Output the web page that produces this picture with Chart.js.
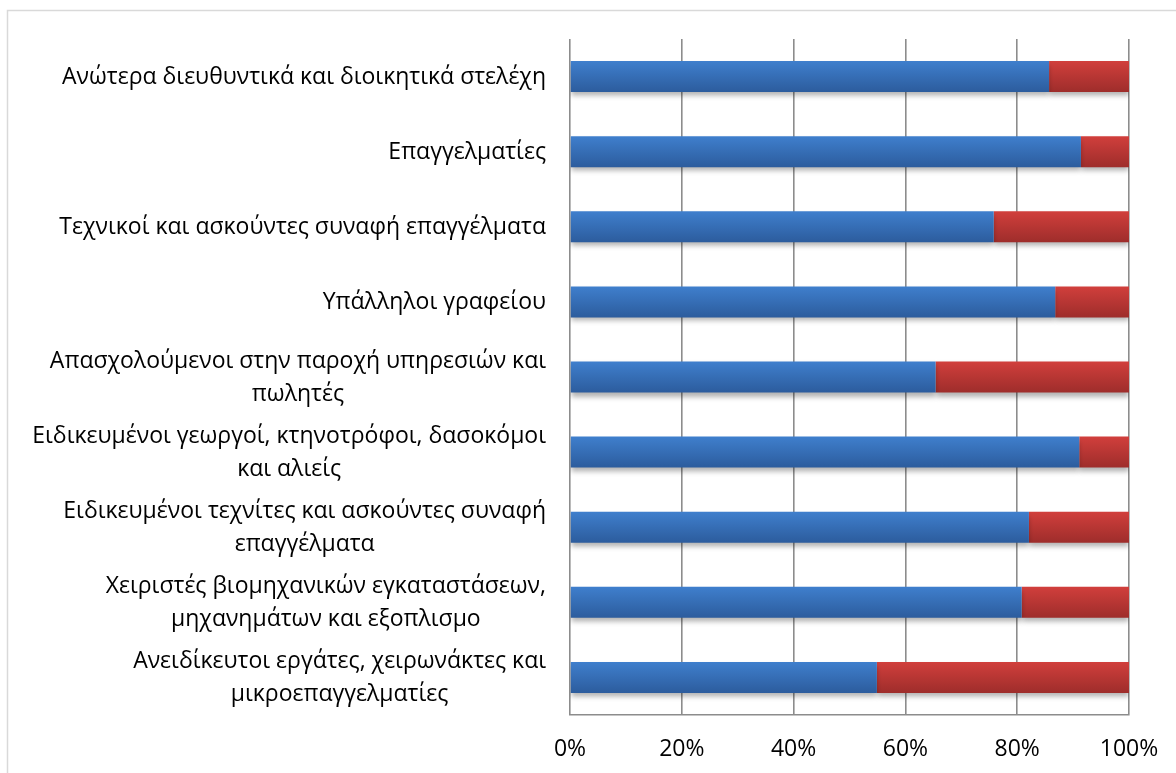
<!DOCTYPE html>
<html>
<head>
<meta charset="utf-8">
<script src="https://cdn.jsdelivr.net/npm/chart.js@4.4.1/dist/chart.umd.min.js"></script>
<style>
  html, body { margin: 0; padding: 0; background: #ffffff; }
  #wrap { width: 1176px; height: 773px; }
</style>
</head>
<body>
<div id="wrap"><canvas id="c" width="1176" height="773"></canvas></div>
<script>
const categories = [
  ["Ανώτερα διευθυντικά και διοικητικά στελέχη"],
  ["Επαγγελματίες"],
  ["Τεχνικοί και ασκούντες συναφή επαγγέλματα"],
  ["Υπάλληλοι γραφείου"],
  ["Απασχολούμενοι στην παροχή υπηρεσιών και", "πωλητές"],
  ["Ειδικευμένοι γεωργοί, κτηνοτρόφοι, δασοκόμοι", "και αλιείς"],
  ["Ειδικευμένοι τεχνίτες και ασκούντες συναφή", "επαγγέλματα"],
  ["Χειριστές βιομηχανικών εγκαταστάσεων,", "μηχανημάτων και εξοπλισμο"],
  ["Ανειδίκευτοι εργάτες, χειρωνάκτες και", "μικροεπαγγελματίες"]
];
const blueValues = [85.7, 91.4, 75.8, 86.8, 65.4, 91.1, 82.1, 80.8, 54.9];
const redValues  = [14.3, 8.6, 24.2, 13.2, 34.6, 8.9, 17.9, 19.2, 45.1];
const xTickValues = [0, 20, 40, 60, 80, 100];

const FONT = "'Open Sans', 'Noto Sans', sans-serif";
const FONT_SIZE = 23;
const BAR_PCT = 0.413;

function gradientFill(top, bottom) {
  return function (context) {
    const chart = context.chart;
    const area = chart.chartArea;
    if (!area) return top;
    const yScale = chart.scales.y;
    const yc = yScale.getPixelForValue(context.dataIndex);
    const h = (area.height / categories.length) * BAR_PCT;
    const g = chart.ctx.createLinearGradient(0, yc - h / 2, 0, yc + h / 2);
    g.addColorStop(0, top);
    g.addColorStop(1, bottom);
    return g;
  };
}

const shadowPlugin = {
  id: 'barShadow',
  beforeDatasetsDraw(chart) {
    const c = chart.ctx;
    c.save();
    c.shadowColor = 'rgba(0,0,0,0.30)';
    c.shadowBlur = 5;
    c.shadowOffsetX = 0;
    c.shadowOffsetY = 4;
  },
  afterDatasetsDraw(chart) {
    chart.ctx.restore();
  }
};

const labelPlugin = {
  id: 'catLabels',
  afterDraw(chart) {
    const c = chart.ctx;
    const area = chart.chartArea;
    const yScale = chart.scales.y;
    const rightEdge = area.left - 24;
    const lineH = 33;
    c.save();
    c.font = FONT_SIZE + 'px ' + FONT;
    c.fillStyle = '#000000';
    c.textAlign = 'center';
    c.textBaseline = 'middle';
    categories.forEach((lines, i) => {
      const yc = yScale.getPixelForValue(i) + 1;
      let maxW = 0;
      lines.forEach(l => { maxW = Math.max(maxW, c.measureText(l).width); });
      const cx = rightEdge - maxW / 2;
      const y0 = yc - (lines.length - 1) * lineH / 2;
      lines.forEach((l, k) => c.fillText(l, cx, y0 + k * lineH));
    });
    c.restore();
  }
};

const borderPlugin = {
  id: 'outerBorder',
  beforeDraw(chart) {
    const c = chart.ctx;
    c.save();
    c.fillStyle = '#ffffff';
    c.fillRect(0, 0, chart.width, chart.height);
    c.strokeStyle = '#d9d9d9';
    c.lineWidth = 1.5;
    c.strokeRect(7.5, 10.5, 1200, 800);
    c.restore();
  }
};

new Chart(document.getElementById('c'), {
  type: 'bar',
  data: {
    labels: categories,
    datasets: [
      {
        label: 'A',
        data: blueValues,
        backgroundColor: gradientFill('#3f7fcd', '#2c5c9d'),
        borderWidth: 0,
        barPercentage: BAR_PCT,
        categoryPercentage: 1.0
      },
      {
        label: 'B',
        data: redValues,
        backgroundColor: gradientFill('#d13f3c', '#9e2d2b'),
        borderWidth: 0,
        barPercentage: BAR_PCT,
        categoryPercentage: 1.0
      }
    ]
  },
  options: {
    indexAxis: 'y',
    responsive: false,
    animation: false,
    devicePixelRatio: 1,
    layout: { padding: { left: 570, right: 47, top: 39, bottom: 0 } },
    plugins: {
      legend: { display: false },
      tooltip: { enabled: false },
      title: { display: false }
    },
    scales: {
      x: {
        stacked: true,
        min: 0,
        max: 100,
        afterBuildTicks(scale) { scale.ticks = xTickValues.map(v => ({ value: v })); },
        afterFit(scale) {
          scale.height = 58;
          scale.paddingLeft = 0;
          scale.paddingRight = 0;
        },
        ticks: {
          callback: v => v + '%',
          color: '#000000',
          font: { family: FONT, size: FONT_SIZE },
          padding: 21,
          maxRotation: 0
        },
        grid: { color: '#8c8c8c', lineWidth: 1.6, drawTicks: false },
        border: { display: true, color: '#8c8c8c', width: 1.6 }
      },
      y: {
        stacked: true,
        display: false
      }
    }
  },
  plugins: [borderPlugin, shadowPlugin, labelPlugin]
});
</script>
</body>
</html>
